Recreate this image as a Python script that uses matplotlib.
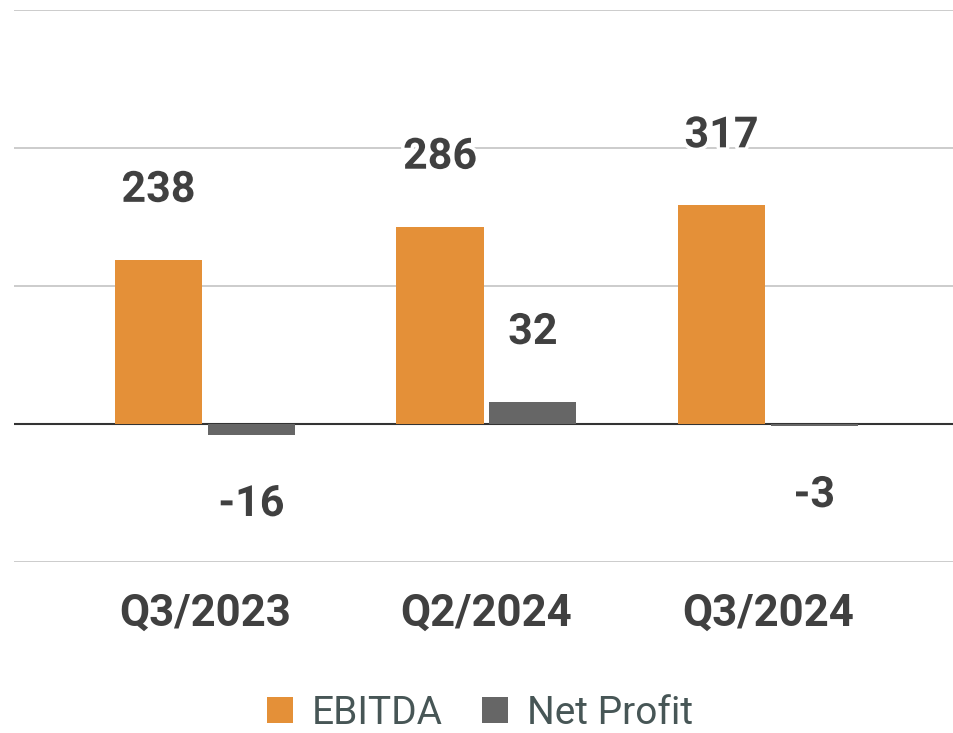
import matplotlib
matplotlib.use("Agg")
import matplotlib.pyplot as plt
import matplotlib.patheffects as pe
from matplotlib.patches import Patch
import numpy as np

plt.rcParams['font.family'] = ['Roboto', 'DejaVu Sans']

# data
quarters = ["Q3/2023", "Q2/2024", "Q3/2024"]
ebitda = [238, 286, 317]
net_profit = [-16, 32, -3]
series_names = ["EBITDA", "Net Profit"]

orange = "#E49038"
grey = "#666666"
text_dark = "#404040"

fig = plt.figure(figsize=(9.54, 7.33), dpi=100)
ax = fig.add_axes([14 / 954, 171 / 733, 1 - 14 / 954, 552 / 733])

x = np.arange(len(quarters))
w = 0.31
off = 0.165

# gridlines + zero line
for g in [-200, 200, 400, 600]:
    ax.axhline(g, color="#cccccc", lw=1.4, zorder=0)
ax.axhline(0, color="#333333", lw=1.5, zorder=1)

bars_e = ax.bar(x - off, ebitda, w, color=orange, zorder=2)
bars_n = ax.bar(x + off, net_profit, w, color=grey, zorder=2)

# value labels, ~70px away from the bar end
stroke = [pe.withStroke(linewidth=5, foreground="white")]
for xs, vals in [(x - off, ebitda), (x + off, net_profit)]:
    for xi, v in zip(xs, vals):
        dy = 50 if v >= 0 else -50
        ax.annotate(str(v), (xi, v), xytext=(0, dy), textcoords="offset points",
                    ha="center", va="center", fontsize=31, fontweight="bold",
                    color=text_dark, path_effects=stroke, zorder=5)

ax.set_xlim(-0.678, 2.661)
ax.set_ylim(-200, 600)
ax.set_yticks([])
ax.set_xticks(x)
ax.set_xticklabels(quarters, fontsize=31.5, fontweight="bold", color=text_dark)
ax.tick_params(axis="x", length=0, pad=22)
for s in ax.spines.values():
    s.set_visible(False)

handles = [Patch(facecolor=orange), Patch(facecolor=grey)]
fig.legend(handles, series_names, loc="center", bbox_to_anchor=(480 / 954, 1 - 713 / 733),
           ncol=2, frameon=False, fontsize=28, labelcolor="#475656",
           handlelength=0.67, handleheight=0.67, handletextpad=0.49, columnspacing=1.0,
           borderpad=0.1)

fig.savefig("out.png", dpi=100, facecolor="white")
